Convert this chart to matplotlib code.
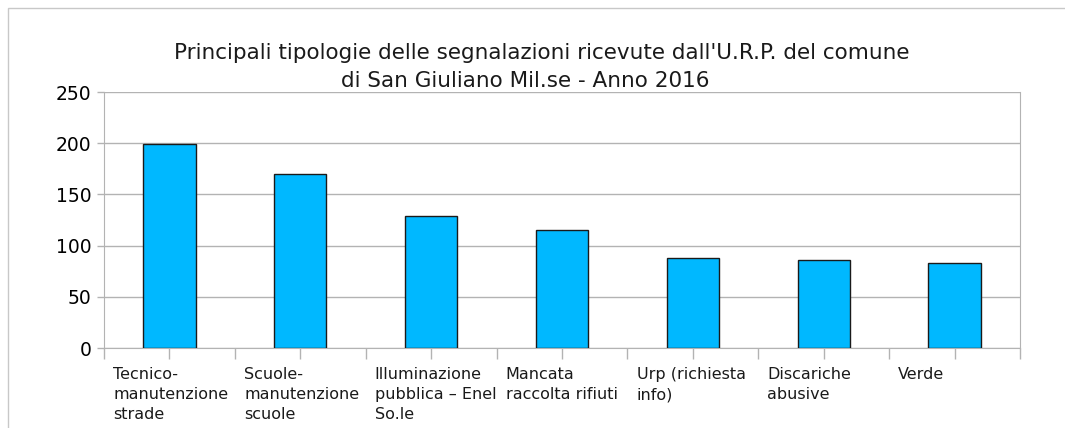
import numpy as np
import matplotlib.pyplot as plt
from matplotlib.patches import Rectangle
from matplotlib.ticker import FixedLocator

# categorie e numero di segnalazioni
categorie = ["Tecnico-\nmanutenzione\nstrade", "Scuole-\nmanutenzione\nscuole",
             "Illuminazione\npubblica \u2013 Enel\nSo.le", "Mancata\nraccolta rifiuti",
             "Urp (richiesta\ninfo)", "Discariche\nabusive", "Verde"]
segnalazioni = [199, 170, 129, 115, 88, 86, 83]
y_ticks = [0, 50, 100, 150, 200, 250]
titolo = ["Principali tipologie delle segnalazioni ricevute dall'U.R.P. del comune",
          "di San Giuliano Mil.se - Anno 2016"]

W, H = 1065, 428
fig = plt.figure(figsize=(W / 100, H / 100), dpi=100)
grid_col = "#b3b3b3"

# cornice esterna del grafico
fig.patches.append(Rectangle((8 / W, -0.1), 1.2, 1 - 8 / H + 0.1, transform=fig.transFigure,
                             fill=False, edgecolor="#c8c8c8", linewidth=1))

ax = fig.add_axes([104 / W, 1 - 348 / H, (1020 - 104) / W, (348 - 92) / H])
x = np.arange(len(categorie))
ax.bar(x, segnalazioni, width=0.4, color="#00b8ff", edgecolor="#1a1a1a", linewidth=1, zorder=3)

ax.set_xlim(-0.5, len(categorie) - 0.5)
ax.set_ylim(0, 250)
ax.set_yticks(y_ticks)
ax.set_yticklabels([str(v) for v in y_ticks], fontsize=13.5)
ax.grid(axis="y", color=grid_col, linewidth=1, zorder=0)

ax.xaxis.set_major_locator(FixedLocator(np.arange(-0.5, len(categorie), 1.0)))
ax.xaxis.set_minor_locator(FixedLocator(x))
ax.set_xticklabels([])
ax.tick_params(axis="x", which="both", length=8, color=grid_col, width=1)
ax.tick_params(axis="y", length=5, color=grid_col, width=1, pad=4)

for side in ["left", "bottom", "right"]:
    ax.spines[side].set_color(grid_col)
ax.spines["top"].set_visible(False)

for i, lab in enumerate(categorie):
    ax.text(i - 0.43, -0.075, lab, transform=ax.get_xaxis_transform(), ha="left", va="top",
            fontsize=11.5, linespacing=1.42, color="#1a1a1a")

# titolo su due righe
fig.text(542 / W, 1 - 59 / H, titolo[0], ha="center", va="baseline", fontsize=15.5, color="#1a1a1a")
fig.text(525 / W, 1 - 87 / H, titolo[1], ha="center", va="baseline", fontsize=15.5, color="#1a1a1a")

fig.savefig("out.png", dpi=100, facecolor="white")
